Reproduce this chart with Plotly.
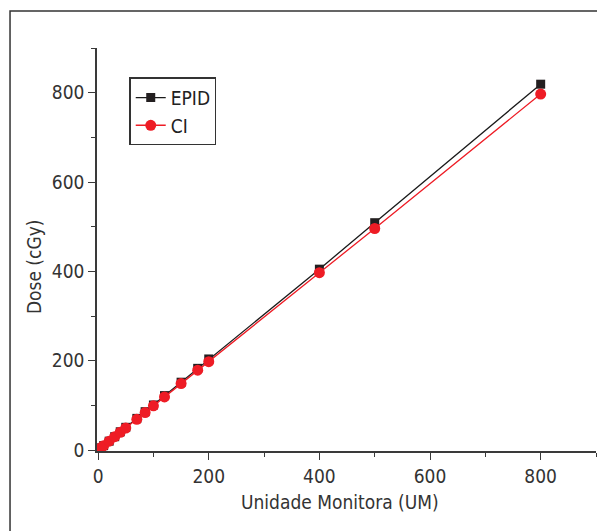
import plotly.graph_objects as go

# Data
um = [0, 2, 5, 10, 20, 30, 40, 50, 70, 85, 100, 120, 150, 180, 200, 400, 500, 800]
dose_epid = [0, 2, 5, 10, 20, 30, 41, 51, 71, 86, 101, 122, 152, 183, 204, 405, 509, 819]
dose_ci = [0, 2, 5, 10, 20, 30, 40, 49.5, 69, 84, 99, 119, 149, 179, 198, 397, 496, 797]
x_ticks = [0, 200, 400, 600, 800]
y_ticks = [0, 200, 400, 600, 800]
x_title = "Unidade Monitora (UM)"
y_title = "Dose (cGy)"

FONT = "DejaVu Sans Condensed, DejaVu Sans, sans-serif"
AX = "#3a3a3a"
FS = 19

fig = go.Figure()
fig.add_trace(go.Scatter(
    x=um, y=dose_epid, name="EPID", mode="lines+markers",
    line=dict(color="#1a1a1a", width=1.3),
    marker=dict(symbol="square", size=9, color="#231f20"),
))
fig.add_trace(go.Scatter(
    x=um, y=dose_ci, name="CI", mode="lines+markers",
    line=dict(color="#ee1c25", width=1.3),
    marker=dict(symbol="circle", size=11, color="#ee1c25"),
))

axis_common = dict(
    showgrid=False, zeroline=False, showline=True, linecolor=AX, linewidth=1.5,
    ticks="outside", ticklen=7, tickwidth=1.3, tickcolor=AX,
    tickfont=dict(family=FONT, size=FS, color="#333"),
    minor=dict(ticks="outside", ticklen=4, tickwidth=1.3, tickcolor=AX, dtick=100),
)

fig.update_xaxes(range=[-2, 900], tickvals=x_ticks, ticktext=[str(v) for v in x_ticks],
                 **axis_common)
fig.update_yaxes(range=[-2, 900], tickvals=y_ticks, ticktext=[str(v) for v in y_ticks],
                 **axis_common)

fig.add_annotation(text=x_title, xref="paper", yref="paper", x=0.487, y=-0.126,
                   xanchor="center", yanchor="middle", showarrow=False,
                   font=dict(family=FONT, size=FS, color="#333"))
fig.add_annotation(text=y_title, xref="paper", yref="paper", x=-0.126, y=0.4566,
                   xanchor="center", yanchor="middle", showarrow=False, textangle=-90,
                   font=dict(family=FONT, size=FS, color="#333"))

fig.add_shape(type="rect", xref="paper", yref="paper",
              x0=-0.1743, x1=1.05, y0=-0.3, y1=1.0918,
              line=dict(color="#333", width=1.5), layer="below")

fig.update_layout(
    width=597, height=531,
    margin=dict(l=97, r=1, t=48, b=80),
    paper_bgcolor="white", plot_bgcolor="white",
    font=dict(family=FONT, size=FS, color="#333"),
    legend=dict(x=0.065, y=0.927, xanchor="left", yanchor="top",
                bordercolor="#333", borderwidth=1.3, bgcolor="white",
                font=dict(family=FONT, size=FS, color="#222"),
                tracegroupgap=0, itemwidth=30),
    showlegend=True,
)

fig.write_html("out.html")
